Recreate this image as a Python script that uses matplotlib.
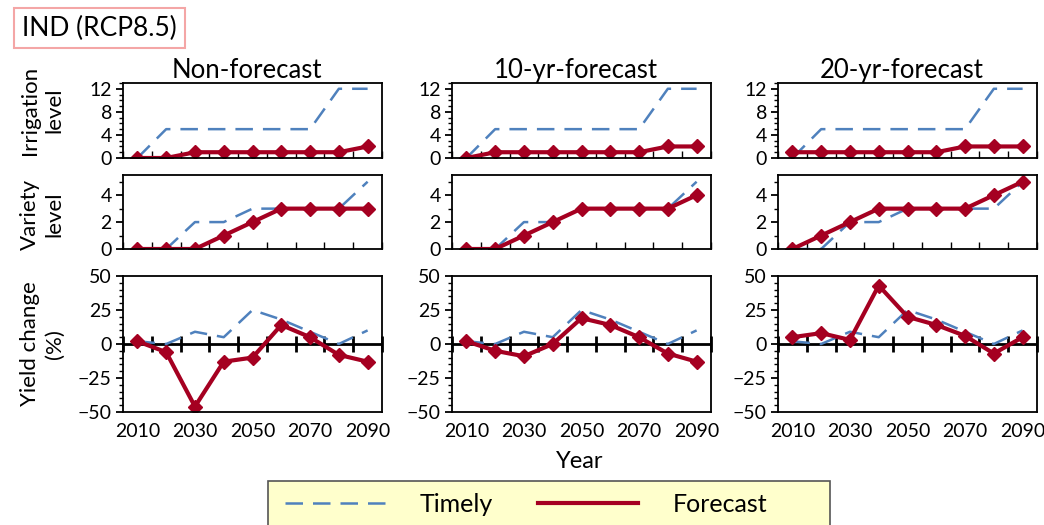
import matplotlib
matplotlib.use("Agg")
import matplotlib.pyplot as plt
import numpy as np
from matplotlib.ticker import MultipleLocator
from matplotlib.patches import Rectangle

plt.rcParams['font.family'] = ['Lato', 'DejaVu Sans']

years = [2010, 2020, 2030, 2040, 2050, 2060, 2070, 2080, 2090]
col_titles = ['Non-forecast', '10-yr-forecast', '20-yr-forecast']

irr_timely = [0, 5, 5, 5, 5, 5, 5, 12, 12]
irr_forecast = [
    [0, 0, 1, 1, 1, 1, 1, 1, 2],
    [0, 1, 1, 1, 1, 1, 1, 2, 2],
    [1, 1, 1, 1, 1, 1, 2, 2, 2],
]

var_timely = [0, 0, 2, 2, 3, 3, 3, 3, 5]
var_forecast = [
    [0, 0, 0, 1, 2, 3, 3, 3, 3],
    [0, 0, 1, 2, 3, 3, 3, 3, 4],
    [0, 1, 2, 3, 3, 3, 3, 4, 5],
]

yld_timely = [2, 0, 9, 5, 25, 18, 9, 0, 10]
yld_forecast = [
    [2, -6, -46, -13, -10, 14, 5, -8, -13],
    [2, -5, -9, 0, 19, 14, 5, -7, -13],
    [5, 8, 3, 43, 20, 14, 6, -7, 5],
]

blue = '#4F81BD'
red = '#A50021'

W, H = 1044, 525
fig = plt.figure(figsize=(W / 100, H / 100), dpi=100)

col_x = [123, 452, 778]
col_w = 259
rows = [(83, 158), (175, 249), (276, 412)]

x = np.arange(len(years))
bounds = np.arange(-0.5, len(years) + 0.5, 1.0)


def make_ax(r, c):
    top, bot = rows[r]
    return fig.add_axes([col_x[c] / W, 1 - bot / H, col_w / W, (bot - top) / H])


def style(ax):
    for s in ax.spines.values():
        s.set_linewidth(1.3)
    ax.set_xlim(-0.5, len(years) - 0.5)
    ax.tick_params(axis='y', which='major', direction='out', length=5, width=1.3, labelsize=14, pad=3)
    ax.tick_params(axis='y', which='minor', direction='out', length=3, width=1)


def lines(ax, timely, forecast):
    ax.plot(x, timely, color=blue, lw=1.8, dashes=(7, 4))
    ax.plot(x, forecast, color=red, lw=3, marker='D', ms=7)


def ylab(ax, text, yc=0.5):
    ax.set_ylabel(text, fontsize=16, linespacing=1.3)
    ax.yaxis.set_label_coords(-0.225, yc)


for c in range(3):
    # irrigation
    ax = make_ax(0, c)
    style(ax)
    lines(ax, irr_timely, irr_forecast[c])
    ax.set_ylim(0, 13)
    ax.yaxis.set_major_locator(MultipleLocator(4))
    ax.yaxis.set_minor_locator(MultipleLocator(1))
    ax.set_xticks(bounds)
    ax.set_xticklabels([])
    ax.tick_params(axis='x', direction='in', length=5, width=1)
    ax.set_title(col_titles[c], fontsize=18.5, pad=1, x=0.5 - 6 / col_w)
    if c == 0:
        ylab(ax, 'Irrigation\nlevel', 0.64)

    # variety
    ax = make_ax(1, c)
    style(ax)
    lines(ax, var_timely, var_forecast[c])
    ax.set_ylim(0, 5.5)
    ax.yaxis.set_major_locator(MultipleLocator(2))
    ax.yaxis.set_minor_locator(MultipleLocator(1))
    ax.set_xticks(bounds)
    ax.set_xticklabels([])
    ax.tick_params(axis='x', direction='in', length=5, width=1)
    if c == 0:
        ylab(ax, 'Variety\nlevel', 0.47)

    # yield change
    ax = make_ax(2, c)
    style(ax)
    ax.axhline(0, color='black', lw=2, zorder=1.5)
    lines(ax, yld_timely, yld_forecast[c])
    ax.set_ylim(-50, 50)
    ax.yaxis.set_major_locator(MultipleLocator(25))
    ax.yaxis.set_minor_locator(MultipleLocator(5))
    ax.set_xticks(x[::2])
    ax.set_xticklabels([str(y) for y in years[::2]], fontsize=14)
    ax.tick_params(axis='x', length=0, pad=8)
    zero = ax.secondary_xaxis(0.5)
    zero.set_xticks(bounds)
    zero.set_xticklabels([])
    zero.spines['bottom'].set_linewidth(2)
    zero.tick_params(axis='x', direction='inout', length=12, width=2)
    if c == 0:
        ylab(ax, 'Yield change\n(%)')

fig.text(580 / W, 1 - 462 / H, 'Year', ha='center', va='center', fontsize=17)

fig.text(22 / W, 1 - 28 / H, 'IND (RCP8.5)', ha='left', va='center', fontsize=19,
         bbox=dict(boxstyle='square,pad=0.3', facecolor='white', edgecolor='#F4A6A6', lw=1.5))

# legend box (extends past the bottom edge like the original)
fig.patches.append(Rectangle((268 / W, -0.05), 562 / W, 0.05 + 44 / H,
                             transform=fig.transFigure, facecolor='#FFFFCC',
                             edgecolor='#555555', lw=1.2, zorder=0))
h1, = plt.plot([], [], color=blue, lw=1.8, dashes=(7, 4))
h2, = plt.plot([], [], color=red, lw=3)
leg = fig.legend([h1, h2], ['Timely', 'Forecast'], loc='center', ncol=2,
                 bbox_to_anchor=(526 / W, 1 - 504 / H), borderaxespad=0,
                 fontsize=18, frameon=False,
                 handlelength=4, columnspacing=1.8, handletextpad=1.4)

fig.savefig('out.png', dpi=100)
